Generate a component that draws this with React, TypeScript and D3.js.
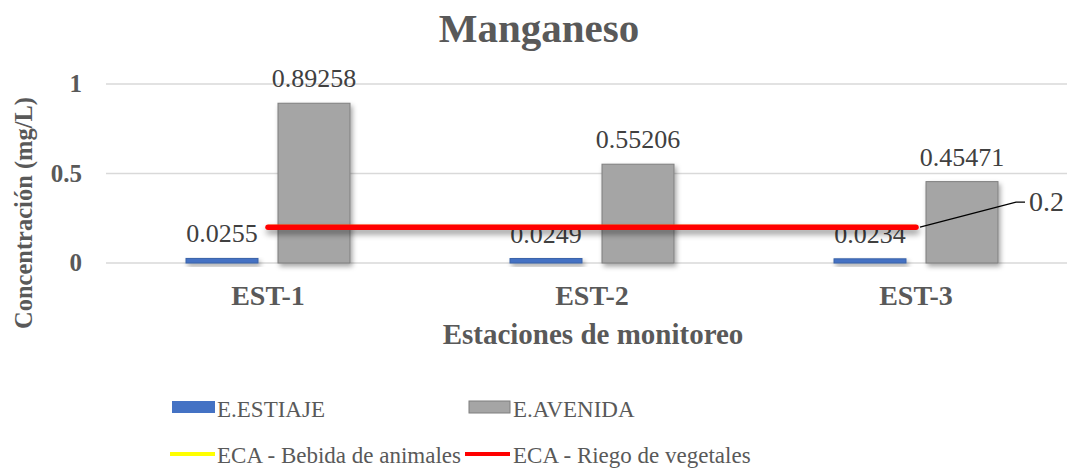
import React, { useEffect, useRef } from "react";
import * as d3 from "d3";

const categories = ["EST-1", "EST-2", "EST-3"];
const estiaje = [0.0255, 0.0249, 0.0234];
const avenida = [0.89258, 0.55206, 0.45471];
const ecaBebida = [0.2, 0.2, 0.2];
const ecaRiego = [0.2, 0.2, 0.2];
const yTicks = [0, 0.5, 1];
const seriesNames = ["E.ESTIAJE", "E.AVENIDA"];

const FONT = "Liberation Serif, Times New Roman, serif";

export default function App() {
  const ref = useRef<SVGSVGElement>(null);

  useEffect(() => {
    const svg = d3.select(ref.current);
    svg.selectAll("*").remove();

    const defs = svg.append("defs");
    const shadow = defs
      .append("filter")
      .attr("id", "shadow")
      .attr("x", "-20%")
      .attr("y", "-20%")
      .attr("width", "150%")
      .attr("height", "200%");
    shadow
      .append("feDropShadow")
      .attr("dx", 2)
      .attr("dy", 3)
      .attr("stdDeviation", 2.5)
      .attr("flood-color", "#000")
      .attr("flood-opacity", 0.35);
    // line shadow needs user space units (zero-height bbox)
    const lineShadow = defs
      .append("filter")
      .attr("id", "lineShadow")
      .attr("filterUnits", "userSpaceOnUse")
      .attr("x", 0)
      .attr("y", 0)
      .attr("width", 1070)
      .attr("height", 470);
    lineShadow
      .append("feDropShadow")
      .attr("dx", 1)
      .attr("dy", 4)
      .attr("stdDeviation", 3)
      .attr("flood-color", "#000")
      .attr("flood-opacity", 0.45);

    var x = d3.scaleBand().domain(categories).range([106, 1078]).padding(0);
    var x1 = d3
      .scaleBand()
      .domain(seriesNames)
      .range([-82, 82])
      .paddingInner(20 / 92)
      .paddingOuter(0);
    var y = d3.scaleLinear().domain([0, 1]).range([263, 84]);
    const cx = (c: string) => (x(c) as number) + x.bandwidth() / 2;

    // title
    svg
      .append("text")
      .attr("x", 539)
      .attr("y", 42)
      .attr("text-anchor", "middle")
      .attr("font-family", FONT)
      .attr("font-weight", "bold")
      .attr("font-size", 41)
      .attr("fill", "#595959")
      .text("Manganeso");

    // gridlines
    svg
      .selectAll(".grid")
      .data(yTicks)
      .enter()
      .append("line")
      .attr("x1", 106)
      .attr("x2", 1067)
      .attr("y1", (d) => y(d))
      .attr("y2", (d) => y(d))
      .attr("stroke", "#d9d9d9")
      .attr("stroke-width", 1.3);

    // y tick labels
    svg
      .selectAll(".ytick")
      .data(yTicks)
      .enter()
      .append("text")
      .attr("x", 82)
      .attr("y", (d) => y(d) + 8)
      .attr("text-anchor", "end")
      .attr("font-family", FONT)
      .attr("font-weight", "bold")
      .attr("font-size", 25)
      .attr("fill", "#595959")
      .text((d) => String(d));

    // y axis title
    svg
      .append("text")
      .attr("transform", "translate(32,213) rotate(-90)")
      .attr("text-anchor", "middle")
      .attr("font-family", FONT)
      .attr("font-weight", "bold")
      .attr("font-size", 24.5)
      .attr("fill", "#595959")
      .text("Concentración (mg/L)");

    // x labels
    svg
      .selectAll(".xlab")
      .data(categories)
      .enter()
      .append("text")
      .attr("x", (d) => cx(d))
      .attr("y", 305)
      .attr("text-anchor", "middle")
      .attr("font-family", FONT)
      .attr("font-weight", "bold")
      .attr("font-size", 28)
      .attr("fill", "#595959")
      .text((d) => d);

    svg
      .append("text")
      .attr("x", 593)
      .attr("y", 344)
      .attr("text-anchor", "middle")
      .attr("font-family", FONT)
      .attr("font-weight", "bold")
      .attr("font-size", 29)
      .attr("fill", "#595959")
      .text("Estaciones de monitoreo");

    // bars
    const groups = [
      { name: "E.ESTIAJE", values: estiaje, fill: "#4472c4", stroke: "#3a62a8" },
      { name: "E.AVENIDA", values: avenida, fill: "#a5a5a5", stroke: "#7f7f7f" },
    ];
    groups.forEach((s) => {
      svg
        .selectAll(".bar-" + s.name)
        .data(s.values)
        .enter()
        .append("rect")
        .attr("x", (d, i) => cx(categories[i]) + (x1(s.name) as number))
        .attr("y", (d) => y(d))
        .attr("width", x1.bandwidth())
        .attr("height", (d) => y(0) - y(d))
        .attr("fill", s.fill)
        .attr("stroke", s.stroke)
        .attr("stroke-width", 1)
        .attr("filter", "url(#shadow)");
    });

    // data labels
    groups.forEach((s) => {
      svg
        .selectAll(".lab-" + s.name)
        .data(s.values)
        .enter()
        .append("text")
        .attr("x", (d, i) => cx(categories[i]) + (x1(s.name) as number) + x1.bandwidth() / 2)
        .attr("y", (d) => y(d) - 16)
        .attr("text-anchor", "middle")
        .attr("font-family", FONT)
        .attr("font-size", 26)
        .attr("fill", "#404040")
        .text((d) => String(d));
    });

    // ECA lines
    const line = d3
      .line<number>()
      .x((d, i) => cx(categories[i]))
      .y((d) => y(d));
    svg
      .append("path")
      .datum(ecaBebida)
      .attr("d", line)
      .attr("fill", "none")
      .attr("stroke", "#ffff00")
      .attr("stroke-width", 5);
    svg
      .append("path")
      .datum(ecaRiego)
      .attr("d", line)
      .attr("fill", "none")
      .attr("stroke", "#ff0000")
      .attr("stroke-width", 5.5)
      .attr("stroke-linecap", "round")
      .attr("filter", "url(#lineShadow)");

    // leader label for ECA value
    const last = ecaRiego.length - 1;
    const lx = cx(categories[last]) + 4;
    const ly = y(ecaRiego[last]);
    svg
      .append("polyline")
      .attr("points", `${lx},${ly} ${1016},${ly - 25} ${1025},${ly - 25}`)
      .attr("fill", "none")
      .attr("stroke", "#000")
      .attr("stroke-width", 1.3);
    svg
      .append("text")
      .attr("x", 1029)
      .attr("y", ly - 16)
      .attr("font-family", FONT)
      .attr("font-size", 28)
      .attr("fill", "#404040")
      .text(String(ecaRiego[last]));

    // legend
    const lg = svg.append("g").attr("font-family", FONT).attr("font-size", 23).attr("fill", "#595959");
    lg.append("rect").attr("x", 172).attr("y", 401).attr("width", 43).attr("height", 12).attr("fill", "#4472c4");
    lg.append("text").attr("x", 217).attr("y", 417).text("E.ESTIAJE");
    lg.append("rect")
      .attr("x", 469)
      .attr("y", 401)
      .attr("width", 41)
      .attr("height", 12)
      .attr("fill", "#a5a5a5")
      .attr("stroke", "#7f7f7f");
    lg.append("text").attr("x", 513).attr("y", 417).text("E.AVENIDA");
    lg.append("line").attr("x1", 170).attr("x2", 215).attr("y1", 454).attr("y2", 454).attr("stroke", "#ffff00").attr("stroke-width", 4);
    lg.append("text").attr("x", 217).attr("y", 463).text("ECA - Bebida de animales");
    lg.append("line").attr("x1", 465).attr("x2", 510).attr("y1", 454).attr("y2", 454).attr("stroke", "#ff0000").attr("stroke-width", 4);
    lg.append("text").attr("x", 513).attr("y", 463).text("ECA - Riego de vegetales");
  }, []);

  return (
    <svg
      ref={ref}
      width={1070}
      height={470}
      style={{ position: "absolute", left: 0, top: 0, background: "#fff" }}
    />
  );
}
